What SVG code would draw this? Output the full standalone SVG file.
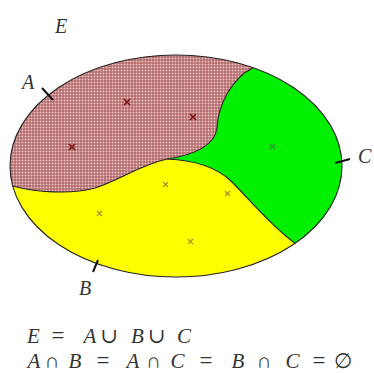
<svg xmlns="http://www.w3.org/2000/svg" width="374" height="373" viewBox="0 0 374 373">
<style>
.math{font-family:'Liberation Serif','DejaVu Serif',serif;font-style:italic;font-size:20px;fill:#333}
.f{font-size:21px;text-anchor:middle}
.op{font-style:normal}
.eq{font-style:normal;font-size:23px}
.bd{fill:none;stroke:#222;stroke-width:1.1}
.tick{stroke:#111;stroke-width:2;fill:none}
.xa{stroke:#7a1010;stroke-width:1.6}
.xb{stroke:#b08a20;stroke-width:1.1}
.xc{stroke:#3a8a3a;stroke-width:1.1}
</style>
<defs>
<pattern id="dots" width="3" height="3" patternUnits="userSpaceOnUse">
<rect width="3" height="3" fill="#b06a6a"/>
<circle cx="1.5" cy="1.5" r="1" fill="#f0c4c4"/>
</pattern>
</defs>
<rect width="374" height="373" fill="#fff"/>
<g id="regionB">
<path d="M12.7,186 A166,111 0 0 0 295,243.4 C270,225 250,200 232,182 C215,165 190,160 167,159 C140,165 120,180 95,188 C70,195 35,192 12.7,186 Z" fill="#ffff00"/>
</g>
<g id="regionC">
<path d="M253,67.7 A166,111 0 0 1 295,243.4 C270,225 250,200 232,182 C215,165 190,160 167,159 C195,155 215,145 217,128 C218,105 232,78 253,67.7 Z" fill="#00f000"/>
</g>
<g id="regionA">
<path d="M12.7,186 A166,111 0 0 1 253,67.7 C232,78 218,105 217,128 C215,145 195,155 167,159 C140,165 120,180 95,188 C70,195 35,192 12.7,186 Z" fill="url(#dots)"/>
</g>
<g id="connectors">
<ellipse class="bd" cx="176" cy="166" rx="166" ry="111"/>
<path class="bd" d="M253,67.7 C232,78 218,105 217,128 C215,145 195,155 167,159"/>
<path class="bd" d="M167,159 C140,165 120,180 95,188 C70,195 35,192 12.7,186"/>
<path class="bd" d="M167,159 C190,160 215,165 232,182 C250,200 270,225 295,243.4"/>
<line class="tick" x1="42" y1="88" x2="53" y2="100"/>
<line class="tick" x1="335" y1="163" x2="350" y2="159"/>
<line class="tick" x1="98" y1="260" x2="93" y2="272"/>
</g>
<g id="points">
<path class="xa" d="M124,99 l6,6 m0,-6 l-6,6 M190,114 l6,6 m0,-6 l-6,6 M69,144 l6,6 m0,-6 l-6,6"/>
<path class="xc" d="M270,144 l5,5 m0,-5 l-5,5"/>
<path class="xb" d="M163,182 l5,5 m0,-5 l-5,5 M225,191 l5,5 m0,-5 l-5,5 M97,211 l5,5 m0,-5 l-5,5 M188,239 l5,5 m0,-5 l-5,5"/>
</g>
<g id="labels">
<text class="math" x="55" y="33">E</text>
<text class="math" x="22" y="89">A</text>
<text class="math" x="358" y="163">C</text>
<text class="math" x="79" y="295">B</text>
</g>
<g id="formulas">
<text class="math f" y="343"><tspan x="33.5">E</tspan><tspan class="eq" x="58">=</tspan><tspan x="90">A</tspan><tspan class="op" x="109">∪</tspan><tspan x="137.5">B</tspan><tspan class="op" x="156.5">∪</tspan><tspan x="184">C</tspan></text>
<text class="math f" y="368"><tspan x="34">A</tspan><tspan class="op" x="52">∩</tspan><tspan x="75">B</tspan><tspan class="eq" x="103">=</tspan><tspan x="133">A</tspan><tspan class="op" x="153.5">∩</tspan><tspan x="177.5">C</tspan><tspan class="eq" x="206">=</tspan><tspan x="238">B</tspan><tspan class="op" x="264">∩</tspan><tspan x="292.5">C</tspan><tspan class="eq" x="319">=</tspan><tspan class="op" x="342.5">∅</tspan></text>
</g>
</svg>
